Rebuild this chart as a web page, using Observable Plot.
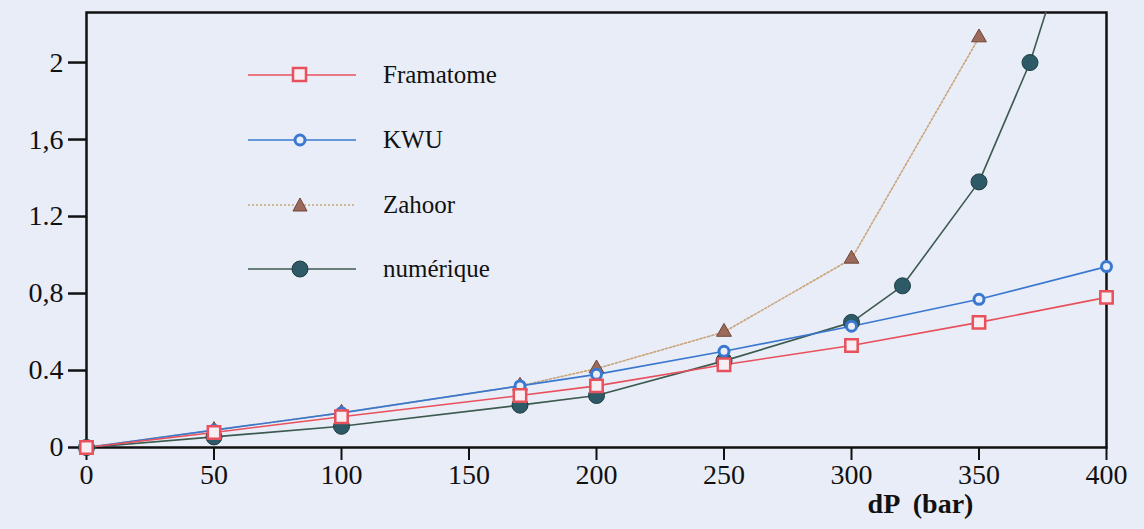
<!DOCTYPE html>
<html>
<head>
<meta charset="utf-8">
<script src="https://cdn.jsdelivr.net/npm/d3@7"></script>
<script src="https://cdn.jsdelivr.net/npm/@observablehq/plot@0.6"></script>
<style>
  html, body { margin: 0; padding: 0; background: #e9edf7; }
  #wrap { position: relative; width: 1144px; height: 529px; }
  #legend { position: absolute; left: 248px; top: 0; font-family: "Liberation Serif", serif; font-size: 25px; color: #111; }
  .row { position: absolute; left: 0; width: 320px; height: 30px; }
  .row svg { position: absolute; left: 0; top: 0; }
  .row span { position: absolute; left: 135px; top: 0; line-height: 30px; white-space: nowrap; }
</style>
</head>
<body>
<div id="wrap"></div>
<script>
// ---- data ----
const dP = [0, 50, 100, 170, 200, 250, 300, 350, 400];
const framatome = [0, 0.078, 0.16, 0.27, 0.32, 0.43, 0.53, 0.65, 0.78];
const kwu = [0, 0.09, 0.18, 0.32, 0.38, 0.50, 0.63, 0.77, 0.94];
const zahoorX = [0, 50, 100, 170, 200, 250, 300, 350];
const zahoor = [0, 0.09, 0.18, 0.32, 0.41, 0.60, 0.98, 2.13];
const numX = [0, 50, 100, 170, 200, 250, 300, 320, 350, 370, 380];
const numerique = [0, 0.055, 0.11, 0.22, 0.27, 0.45, 0.65, 0.84, 1.38, 2.0, 2.42];
const seriesNames = ["Framatome", "KWU", "Zahoor", "numérique"];
const yTicks = [0, 0.4, 0.8, 1.2, 1.6, 2];
const yTickLabels = ["0", "0.4", "0,8", "1.2", "1,6", "2"];
const xTicks = [0, 50, 100, 150, 200, 250, 300, 350, 400];
const xLabel = "dP  (bar)";

const colors = { fram: "#e8505c", kwu: "#3a78d0", zah: "#c9a47a", num: "#3c5a50" };

const fr = dP.map((x, i) => ({x, y: framatome[i]}));
const kw = dP.map((x, i) => ({x, y: kwu[i]}));
const za = zahoorX.map((x, i) => ({x, y: zahoor[i]}));
const nu = numX.map((x, i) => ({x, y: numerique[i]}));
const nuVisible = nu.filter(d => d.y <= 2.26);

const chart = Plot.plot({
  width: 1144,
  height: 529,
  marginLeft: 86,
  marginRight: 38,
  marginTop: 12,
  marginBottom: 82,
  style: { background: "transparent", fontFamily: "Liberation Serif, serif", fontSize: "28px", color: "#111" },
  x: { domain: [0, 400], ticks: xTicks },
  y: { domain: [0, 2.26], ticks: yTicks },
  marks: [
    Plot.frame({ stroke: "#111", strokeWidth: 2.5 }),
    Plot.axisX({ ticks: xTicks, tickSize: 13, tickPadding: 4, tickFormat: d => String(d), fontSize: 28, stroke: "#111", strokeWidth: 2, label: null }),
    Plot.axisY({ ticks: yTicks, tickSize: 18, tickPadding: 5, tickFormat: d => yTickLabels[yTicks.indexOf(d)], fontSize: 28, stroke: "#111", strokeWidth: 2.5, label: null }),
    Plot.text([xLabel], { frameAnchor: "bottom", lineAnchor: "bottom", dx: 74 + 250, dy: 65, fontSize: 28, fontWeight: "bold", fill: "#111", style: "white-space: pre" }),
    Plot.line(za, { x: "x", y: "y", stroke: colors.zah, strokeWidth: 1.6, strokeDasharray: "2,2" }),
    Plot.line(nu, { x: "x", y: "y", stroke: colors.num, strokeWidth: 1.6, clip: true }),
    Plot.line(kw, { x: "x", y: "y", stroke: colors.kwu, strokeWidth: 1.7 }),
    Plot.line(fr, { x: "x", y: "y", stroke: colors.fram, strokeWidth: 1.6 }),
    Plot.dot(za, { x: "x", y: "y", symbol: "triangle", r: 5.5, fill: "#9c6a5a", stroke: "#6e4538", strokeWidth: 1 }),
    Plot.dot(nuVisible, { x: "x", y: "y", r: 8, fill: "#2d5a66", stroke: "#1e3d40", strokeWidth: 1 }),
    Plot.dot(kw, { x: "x", y: "y", r: 5, fill: "#e9edf7", stroke: colors.kwu, strokeWidth: 3 }),
    Plot.dot(fr, { x: "x", y: "y", symbol: "square", r: 7, fill: "#f6eef2", stroke: colors.fram, strokeWidth: 2.5 })
  ]
});

const wrap = document.getElementById("wrap");
wrap.appendChild(chart);

// legend
const legend = document.createElement("div");
legend.id = "legend";
const rowsTop = [60, 125, 190, 254];
const symbols = [
  `<line x1="0" y1="15" x2="108" y2="15" stroke="${colors.fram}" stroke-width="1.6"/><rect x="45" y="8" width="13" height="13" fill="#f6eef2" stroke="${colors.fram}" stroke-width="2.5"/>`,
  `<line x1="0" y1="15" x2="108" y2="15" stroke="${colors.kwu}" stroke-width="1.7"/><circle cx="52" cy="15" r="5" fill="#e9edf7" stroke="${colors.kwu}" stroke-width="3"/>`,
  `<line x1="0" y1="15" x2="108" y2="15" stroke="${colors.zah}" stroke-width="1.6" stroke-dasharray="2,2"/><path d="M52,8 L59,21 L45,21 Z" fill="#9c6a5a" stroke="#6e4538" stroke-width="1"/>`,
  `<line x1="0" y1="15" x2="108" y2="15" stroke="${colors.num}" stroke-width="1.6"/><circle cx="52" cy="15" r="8" fill="#2d5a66" stroke="#1e3d40" stroke-width="1"/>`
];
seriesNames.forEach((name, i) => {
  const row = document.createElement("div");
  row.className = "row";
  row.style.top = rowsTop[i] + "px";
  row.innerHTML = `<svg width="110" height="30">${symbols[i]}</svg><span>${name}</span>`;
  legend.appendChild(row);
});
wrap.appendChild(legend);
</script>
</body>
</html>
